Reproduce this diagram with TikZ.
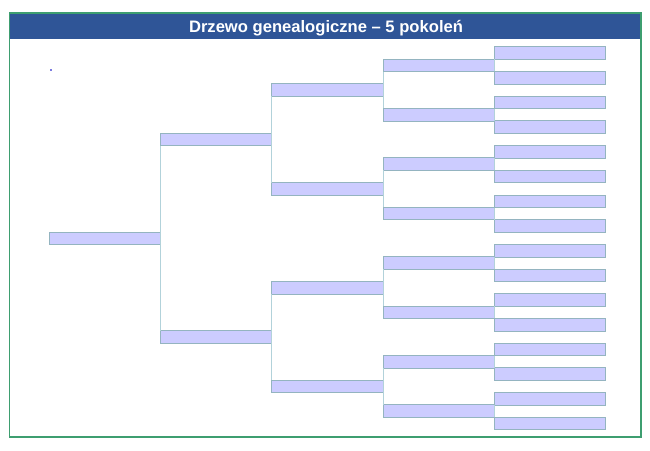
\documentclass[tikz,border=0pt]{standalone}
\usepackage{fontspec}
\setmainfont{Liberation Sans}
\definecolor{framegreen}{HTML}{3E9E70}
\definecolor{titleblue}{HTML}{2F5597}
\definecolor{boxfill}{HTML}{CCCCFF}
\definecolor{boxline}{HTML}{94B4C0}
\definecolor{connline}{HTML}{B2D2DA}
\definecolor{markblue}{HTML}{7B7BE0}
\begin{document}
\begin{tikzpicture}[x=1pt,y=-1pt,
  box/.style={draw=boxline, fill=boxfill, line width=0.8pt, minimum width=111.3pt,
    minimum height=12.6pt, inner sep=0pt, outer sep=0pt, anchor=west},
  conn/.style={draw=connline, line width=0.8pt},
  titletext/.style={text=white, font=\bfseries\fontsize{16.6}{19}\selectfont, inner sep=0pt, anchor=base}]
\useasboundingbox (0,0) rectangle (650,450);
\fill[white] (0,0) rectangle (650,450);
\fill[titleblue] (9.5,13) rectangle (641,38.5);
\draw[framegreen, line width=1.2pt] (9.5,13) rectangle (641,437);
\node[titletext] (title) at (326,32) {Drzewo genealogiczne – 5 pokoleń};
\fill[markblue] (50,68.5) rectangle (52,70.5);
% boxes
\foreach \i in {0,...,15} \node[box] (g5-\i) at (494.2, {53+24.7*\i}) {};
\foreach \i in {0,...,7} \node[box] (g4-\i) at (382.9, {53+24.7*(2*\i+0.5)}) {};
\foreach \i in {0,...,3} \node[box] (g3-\i) at (271.6, {53+24.7*(4*\i+1.5)}) {};
\foreach \i in {0,...,1} \node[box] (g2-\i) at (160.3, {53+24.7*(8*\i+3.5)}) {};
\node[box] (g1-0) at (49, {53+24.7*7.5}) {};
% connectors
\foreach \i in {0,...,7}{\pgfmathtruncatemacro\a{2*\i}\pgfmathtruncatemacro\b{2*\i+1}
  \draw[conn] (g5-\a.south west) -- (g5-\b.north west);}
\foreach \i in {0,...,3}{\pgfmathtruncatemacro\a{2*\i}\pgfmathtruncatemacro\b{2*\i+1}
  \draw[conn] (g4-\a.south west) -- (g4-\b.north west);}
\foreach \i in {0,...,1}{\pgfmathtruncatemacro\a{2*\i}\pgfmathtruncatemacro\b{2*\i+1}
  \draw[conn] (g3-\a.south west) -- (g3-\b.north west);}
\draw[conn] (g2-0.south west) -- (g2-1.north west);
\end{tikzpicture}
\end{document}
